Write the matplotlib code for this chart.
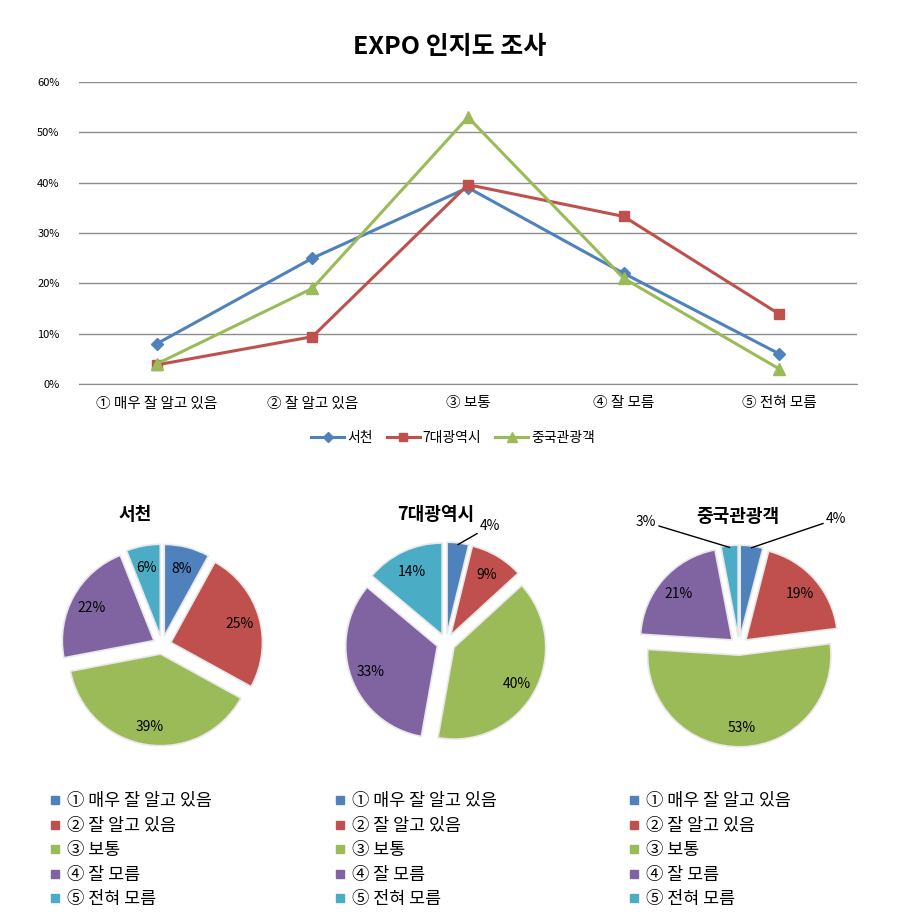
import matplotlib
matplotlib.use("Agg")
import matplotlib.pyplot as plt
from matplotlib.lines import Line2D
import numpy as np

plt.rcParams['font.family'] = ['Noto Sans CJK KR', 'DejaVu Sans']

# --- 데이터 ---
categories = ["① 매우 잘 알고 있음", "② 잘 알고 있음", "③ 보통", "④ 잘 모름", "⑤ 전혀 모름"]
seocheon = [8, 25, 39, 22, 6]
metro7 = [3.8, 9.4, 39.6, 33.3, 13.9]
china = [4, 19, 53, 21, 3]
series_names = ["서천", "7대광역시", "중국관광객"]
yticks = [0, 10, 20, 30, 40, 50, 60]

line_colors = ["#4F81BD", "#C0504D", "#9BBB59"]
markers = ["D", "s", "^"]
msizes = [6, 7, 8]
pie_colors = ["#4F81BD", "#C0504D", "#9BBB59", "#8064A2", "#4BACC6"]

W, H = 922, 923
fig = plt.figure(figsize=(W / 100, H / 100), dpi=100)
fig.patch.set_facecolor("white")

# --- 꺾은선 그래프 ---
ax = fig.add_axes([79 / W, 1 - 384 / H, (857 - 79) / W, (384 - 82) / H])
x = np.arange(len(categories))
for vals, name, c, m, ms in zip([seocheon, metro7, china], series_names, line_colors, markers, msizes):
    ax.plot(x, vals, color=c, marker=m, markersize=ms, linewidth=2.2, label=name)
ax.set_xlim(-0.5, len(categories) - 0.5)
ax.set_ylim(0, 60)
ax.set_yticks(yticks)
ax.set_yticklabels([f"{v}%" for v in yticks], fontsize=8)
ax.set_xticks(x)
ax.set_xticklabels(categories, fontsize=10.5)
ax.yaxis.grid(True, color="#8c8c8c", linewidth=1)
ax.set_axisbelow(True)
for s in ["top", "right", "left"]:
    ax.spines[s].set_visible(False)
ax.spines["bottom"].set_color("#8c8c8c")
ax.tick_params(length=0, pad=9)
ax.tick_params(axis="y", pad=14)
fig.text(450 / W, 1 - 47 / H, "EXPO 인지도 조사", fontsize=18, fontweight="bold",
         ha="center", va="center")
ax.legend(loc="center", bbox_to_anchor=(453 / W, 1 - 438 / H), bbox_transform=fig.transFigure,
          ncol=3, frameon=False, fontsize=10, handlelength=2.4, columnspacing=1.0,
          handletextpad=0.2, markerscale=0.85)

# --- 원 그래프 ---
pie_data = [seocheon, metro7, china]
centers = [(162, 645), (446, 643), (739, 646)]
title_pos = [(135, 515), (436, 515), (738, 517)]
outside_pos = {
    1: {0: (480, 526)},
    2: {0: (826, 519), 4: (656, 522)},
}
size = 220
for i, (vals, name) in enumerate(zip(pie_data, series_names)):
    cx, cy = centers[i]
    pax = fig.add_axes([(cx - size / 2) / W, 1 - (cy + size / 2) / H, size / W, size / H])
    wedges, _ = pax.pie(vals, colors=pie_colors, startangle=90, counterclock=False,
                        explode=[0.1] * len(vals), radius=1,
                        wedgeprops=dict(edgecolor="#e8e8e8", linewidth=1.2))
    pax.set_xlim(-1.2, 1.2)
    pax.set_ylim(-1.2, 1.2)
    pax.set_aspect("equal")
    pax.axis("off")
    for j, (w, v) in enumerate(zip(wedges, vals)):
        ang = np.deg2rad((w.theta1 + w.theta2) / 2)
        lbl = f"{round(v):.0f}%"
        if i in outside_pos and j in outside_pos[i]:
            tx, ty = outside_pos[i][j]
            fx, fy = tx / W, 1 - ty / H
            ex, ey = 0.1 * np.cos(ang), 0.1 * np.sin(ang)
            pax.annotate(lbl, xy=(ex + 0.98 * np.cos(ang), ey + 0.98 * np.sin(ang)),
                         xytext=(fx, fy), textcoords="figure fraction",
                         ha="right" if np.cos(ang) < 0 else "left", va="center",
                         fontsize=10,
                         arrowprops=dict(arrowstyle="-", color="black", linewidth=1,
                                         shrinkA=0, shrinkB=0))
        else:
            r = 0.78
            pax.text((r + 0.1) * np.cos(ang), (r + 0.1) * np.sin(ang) - 0.02, lbl,
                     ha="center", va="center", fontsize=10)
    tx, ty = title_pos[i]
    fig.text(tx / W, 1 - ty / H, name, fontsize=13, fontweight="bold", ha="center", va="center")

# --- 원 그래프 범례 ---
handles = [Line2D([], [], marker="s", linestyle="none", color=c, markersize=6) for c in pie_colors]
legend_x = [48, 333, 627]
for lx in legend_x:
    leg = fig.legend(handles, categories, loc="upper left",
                     bbox_to_anchor=(lx / W, 1 - 792 / H), frameon=False, fontsize=12.5,
                     handlelength=0.8, handletextpad=0.3, labelspacing=0.38,
                     borderpad=0, borderaxespad=0)

fig.savefig("out.png", dpi=100, facecolor="white")
plt.close(fig)
